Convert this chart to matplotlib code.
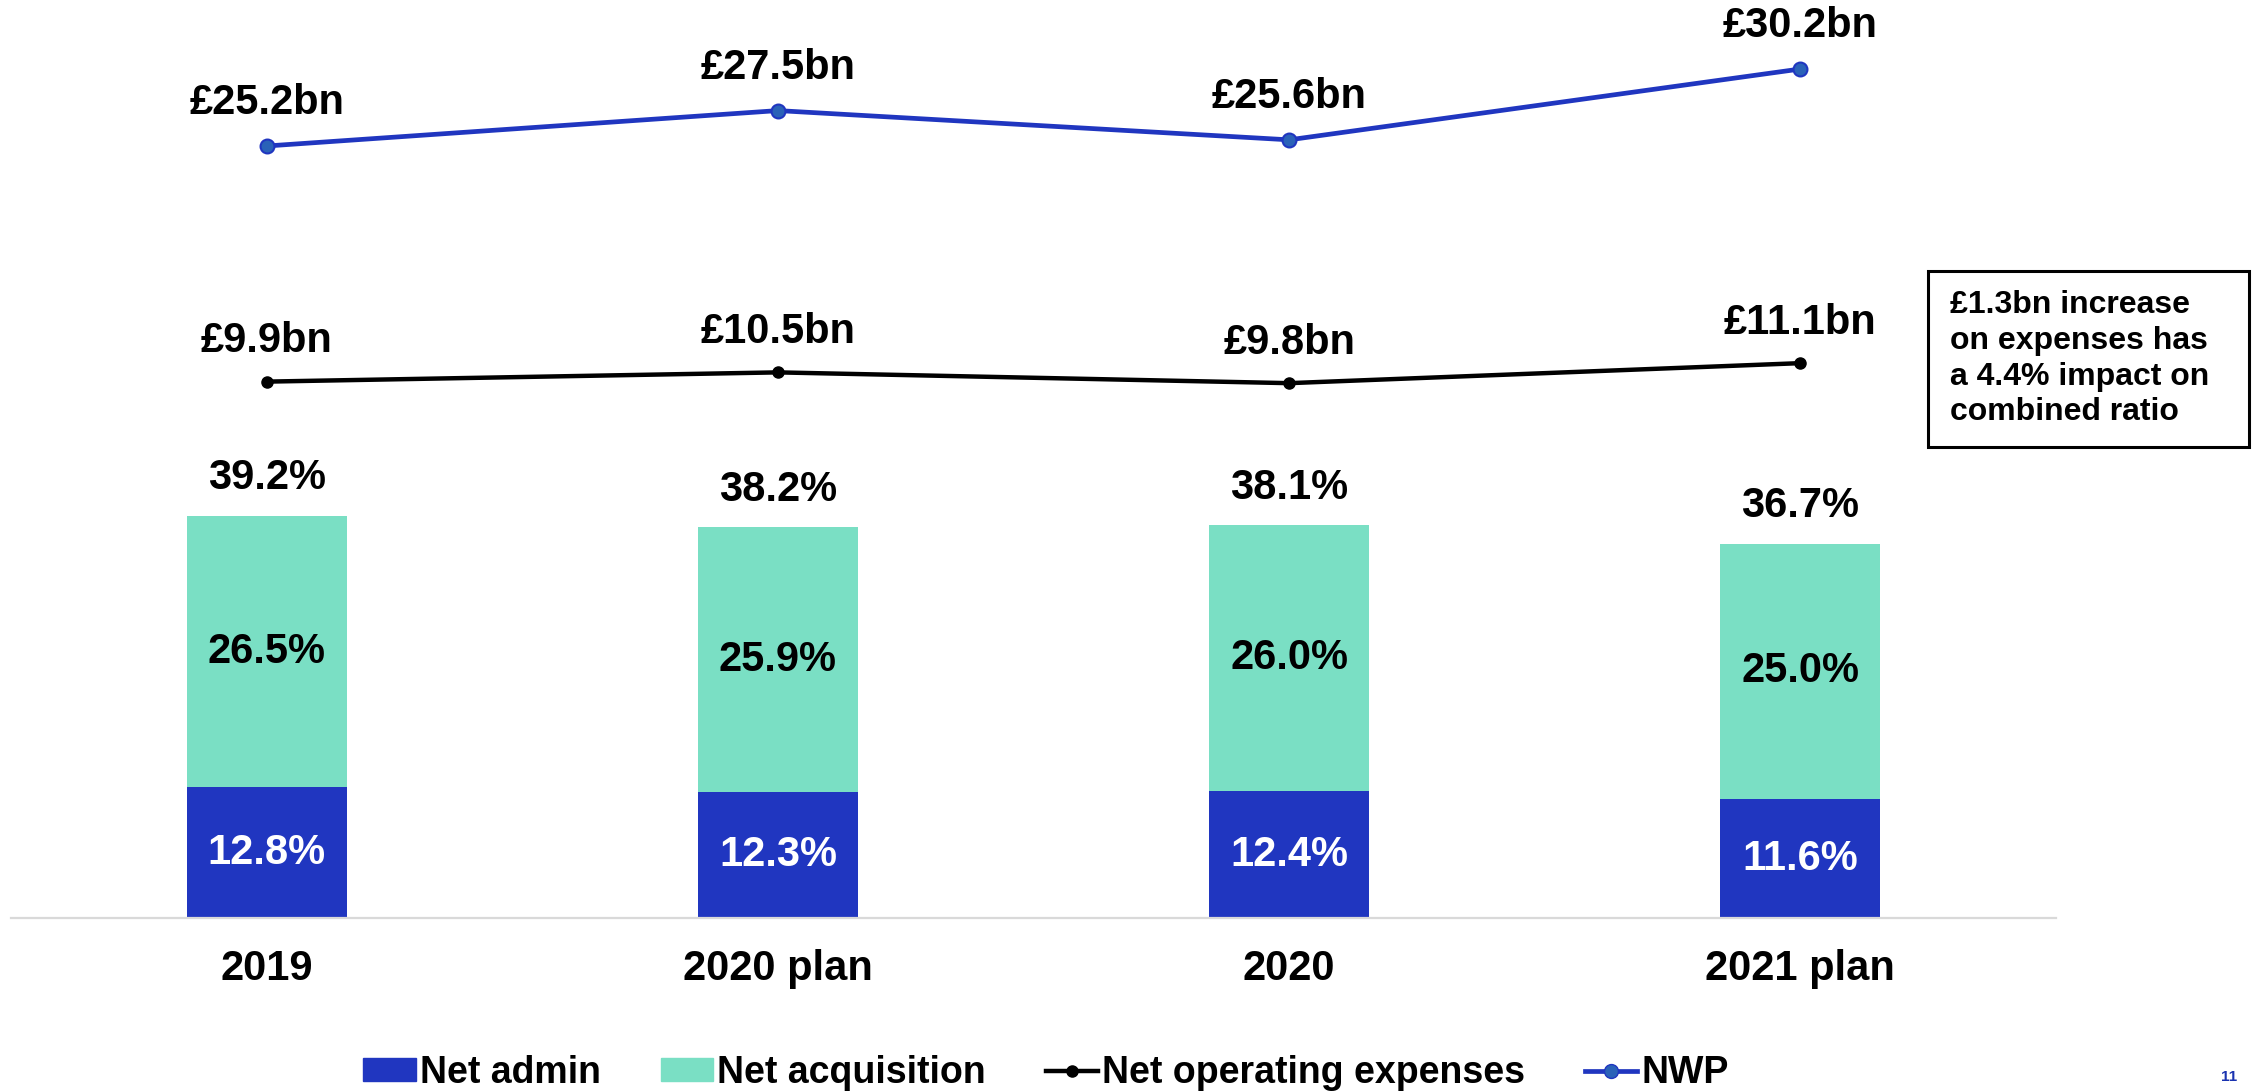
import matplotlib.pyplot as plt
from matplotlib.patches import Rectangle
from matplotlib.lines import Line2D
from matplotlib.patches import Patch

plt.rcParams['font.family'] = ['Liberation Sans', 'DejaVu Sans']
plt.rcParams['font.weight'] = 'bold'

# data
years = ["2019", "2020 plan", "2020", "2021 plan"]
net_admin = [12.8, 12.3, 12.4, 11.6]
net_acq = [26.5, 25.9, 26.0, 25.0]
totals = [39.2, 38.2, 38.1, 36.7]
net_opex = [9.9, 10.5, 9.8, 11.1]
nwp = [25.2, 27.5, 25.6, 30.2]

admin_col = "#2036c0"
acq_col = "#7adfc4"
nwp_col = "#2036c0"

W, H = 2259, 1091
fig = plt.figure(figsize=(W / 100, H / 100), dpi=100)
ax = fig.add_axes([11 / W, (H - 918) / H, (2056 - 11) / W, 918 / H])

x = list(range(len(years)))
ax.bar(x, net_admin, width=0.313, color=admin_col, label="Net admin")
ax.bar(x, net_acq, width=0.313, bottom=net_admin, color=acq_col, label="Net acquisition")

ax.set_xlim(-0.5, 3.5)
ax.set_ylim(0, 918 / 10.23)
for s in ["top", "left", "right"]:
    ax.spines[s].set_visible(False)
ax.spines["bottom"].set_color("#d9d9d9")
ax.spines["bottom"].set_linewidth(1.6)
ax.set_yticks([])
ax.set_xticks(x)
ax.set_xticklabels(years, fontsize=30, fontweight="bold")
ax.tick_params(axis="x", length=0, pad=22)

for i in x:
    ax.text(i, net_admin[i] / 2, f"{net_admin[i]:.1f}%", ha="center", va="center",
            fontsize=30, fontweight="bold", color="white")
    ax.text(i, net_admin[i] + net_acq[i] / 2, f"{net_acq[i]:.1f}%", ha="center", va="center",
            fontsize=30, fontweight="bold", color="black")
    ax.annotate(f"{totals[i]:.1f}%", (i, net_admin[i] + net_acq[i]), xytext=(0, 27),
                textcoords="offset points", ha="center", va="center",
                fontsize=30, fontweight="bold")

# lines on a second axis
ax2 = ax.twinx()
ax2.set_ylim(30.2 - 849 / 15.4, 30.2 + 69 / 15.4)
ax2.axis("off")
ax2.plot(x, net_opex, color="black", lw=3.2, marker="o", ms=8, label="Net operating expenses")
ax2.plot(x, nwp, color=nwp_col, lw=3.4, marker="o", ms=10, mfc="#2a62b8", mec=nwp_col,
         mew=1.5, label="NWP")
for i in x:
    ax2.annotate(f"£{net_opex[i]:.1f}bn", (i, net_opex[i]), xytext=(0, 29),
                 textcoords="offset points", ha="center", va="center",
                 fontsize=30, fontweight="bold")
    ax2.annotate(f"£{nwp[i]:.1f}bn", (i, nwp[i]), xytext=(0, 31),
                 textcoords="offset points", ha="center", va="center",
                 fontsize=30, fontweight="bold")

# note box
fig.patches.append(Rectangle((1928 / W, 1 - 447 / H), (2249 - 1928) / W, (447 - 271) / H,
                             transform=fig.transFigure, fill=False, ec="black", lw=2.2))
fig.text(1950 / W, 1 - 290 / H,
         "£1.3bn increase\non expenses has\na 4.4% impact on\ncombined ratio",
         ha="left", va="top", fontsize=23, fontweight="bold", linespacing=1.25)

# legend
handles = [
    Patch(color=admin_col),
    Patch(color=acq_col),
    Line2D([], [], color="black", lw=3.2, marker="o", ms=8),
    Line2D([], [], color=nwp_col, lw=3.4, marker="o", ms=10, mfc="#2a62b8", mec=nwp_col),
]
labels = ["Net admin", "Net acquisition", "Net operating expenses", "NWP"]
fig.legend(handles, labels, loc="center", bbox_to_anchor=(1046 / W, 1 - 1073 / H), ncol=4,
           frameon=False, handlelength=1.4, handleheight=0.55,
           handletextpad=0.1, columnspacing=1.6, prop={"weight": "bold", "size": 27})

fig.text(2229 / W, 1 - 1077 / H, "11", ha="center", va="center", fontsize=11,
         fontweight="bold", color="#1a33b0")

fig.savefig("out.png", dpi=100)
